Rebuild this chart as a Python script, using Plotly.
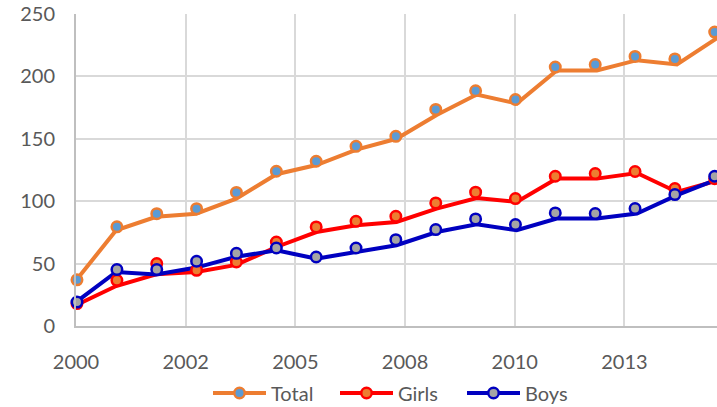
import datetime as dt
import plotly.graph_objects as go

years = list(range(2000, 2017))
dates = [f"{y}-01-01" for y in years]

# Values at the point markers
total_pts = [37, 79.5, 90, 94, 107, 124, 132, 144, 152, 173.5, 188.5, 181.5, 207.5, 209.5, 216, 214, 235.5]
girls_pts = [18, 36.6, 50, 44.6, 51.3, 67.3, 79.4, 83.9, 87.9, 98.6, 107.2, 102.1, 120, 122.2, 123.8, 110.1, 118]
boys_pts = [19.2, 45.2, 45.2, 51.9, 58.2, 62.5, 55.3, 62.5, 69.2, 77.3, 85.8, 81.3, 90.6, 90.1, 94.1, 105.3, 120]

# Values along the drawn lines
total_line = [36.5, 76.7, 87.5, 90, 102, 121.6, 129, 141.4, 150, 169, 185.5, 178.3, 204.7, 204.7, 213, 209.5, 230.6]
girls_line = [16.6, 32, 41.4, 43.3, 49, 63.3, 75.3, 80.7, 83.4, 94.1, 102.6, 99.4, 118.1, 118.1, 122.6, 107.4, 116.5]
boys_line = [19.2, 43.3, 41.2, 46.8, 55.5, 60.6, 54, 59.3, 64.7, 75.3, 81.5, 76.7, 86.1, 86.1, 90.1, 104.8, 117.5]

names = ["Total", "Girls", "Boys"]
line_colors = ["#ED7D31", "#FF0000", "#0000C0"]
fill_colors = ["#5B9BD5", "#ED7D31", "#A5A5A5"]
pts = [total_pts, girls_pts, boys_pts]
lines = [total_line, girls_line, boys_line]

FONT = "Lato"
GRAY = "#595959"

fig = go.Figure()

for name, lc, ln in zip(names, line_colors, lines):
    fig.add_trace(go.Scatter(x=dates, y=ln, mode="lines", name=name,
                             line=dict(color=lc, width=4), showlegend=False,
                             xaxis="x", yaxis="y", hoverinfo="skip"))

for name, lc, fc, p in zip(names, line_colors, fill_colors, pts):
    fig.add_trace(go.Scatter(x=dates, y=p, mode="markers", name=name,
                             marker=dict(size=10.5, color=fc, line=dict(color=lc, width=2.5)),
                             showlegend=False, xaxis="x2", yaxis="y", cliponaxis=False))

for name, lc, fc in zip(names, line_colors, fill_colors):
    fig.add_trace(go.Scatter(x=[None], y=[None], mode="lines+markers", name=name,
                             line=dict(color=lc, width=4),
                             marker=dict(size=10.5, color=fc, line=dict(color=lc, width=2.5)),
                             xaxis="x", yaxis="y"))

d0 = dt.date(2000, 1, 1)
d_end = dt.date(2016, 1, 1)
span_days = (d_end - d0).days
plot_w = 641.0
px_per_day_pts = (712.7 - 75.0) / span_days
x2_start = d0 - dt.timedelta(days=1.0 / px_per_day_pts)
x2_end = x2_start + dt.timedelta(days=plot_w / px_per_day_pts)

fig.update_layout(
    width=717, height=407,
    margin=dict(l=76, r=0, t=14, b=81, autoexpand=False),
    paper_bgcolor="white", plot_bgcolor="white",
    font=dict(family=FONT, size=20, color=GRAY),
    xaxis=dict(type="date", range=[str(d0), str(d_end)],
               tick0="2000-01-01", dtick=1000 * 86400000, tickformat="%Y",
               showgrid=True, gridcolor="#D9D9D9", gridwidth=2,
               showline=True, linecolor="#BFBFBF", linewidth=2,
               zeroline=False, ticks="", ticklabelstandoff=17, automargin=False,
               tickfont=dict(family=FONT, size=20, color=GRAY)),
    xaxis2=dict(type="date", overlaying="x", anchor="y",
                range=[x2_start.isoformat(), x2_end.isoformat()],
                visible=False, showgrid=False, automargin=False),
    yaxis=dict(range=[0, 250], dtick=50, showgrid=True, gridcolor="#D9D9D9", gridwidth=2,
               showline=True, linecolor="#BFBFBF", linewidth=2, zeroline=False,
               ticks="", ticklabelstandoff=15, automargin=False,
               tickfont=dict(family=FONT, size=20, color=GRAY)),
    legend=dict(orientation="h", xref="container", yref="container",
                x=208 / 717, xanchor="left", y=14 / 407, yanchor="middle",
                font=dict(family=FONT, size=20, color=GRAY), itemwidth=53,
                entrywidth=59, entrywidthmode="pixels",
                bgcolor="rgba(0,0,0,0)", traceorder="normal"),
    showlegend=True,
)

fig.write_html("out.html", config={"displayModeBar": False},
               post_script="document.body.style.margin='0';document.body.style.overflow='hidden';")
